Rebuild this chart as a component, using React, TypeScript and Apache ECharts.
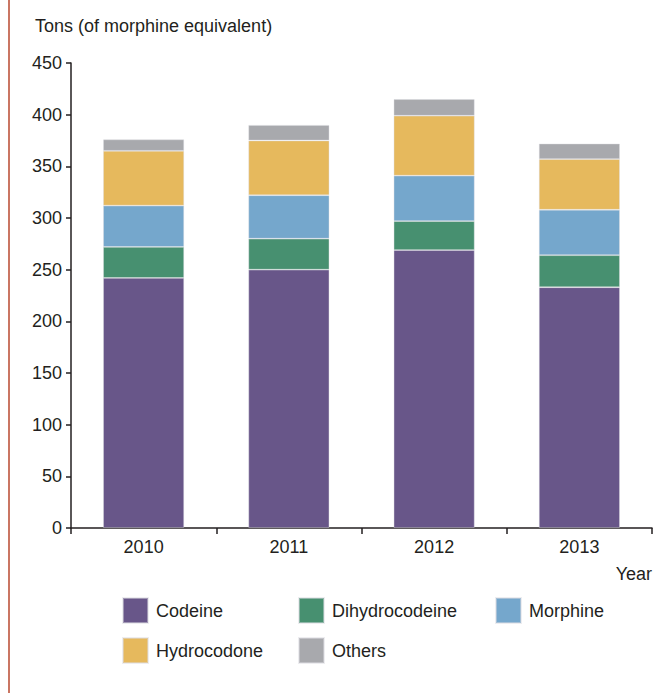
import React, { useEffect, useRef } from "react";
import * as echarts from "echarts";

const years = ["2010", "2011", "2012", "2013"];
const codeine = [242, 250, 269, 233];
const dihydrocodeine = [30, 30, 28, 31];
const morphine = [40, 42, 44, 44];
const hydrocodone = [53, 53, 58, 49];
const others = [11, 15, 16, 15];

const seriesNames = ["Codeine", "Dihydrocodeine", "Morphine", "Hydrocodone", "Others"];
const seriesValues = [codeine, dihydrocodeine, morphine, hydrocodone, others];
const colors = ["#685689", "#479070", "#75A7CC", "#E6B95D", "#A8A9AD"];

const FONT = "'Liberation Sans Narrow', 'Arial Narrow', 'Liberation Sans', sans-serif";
const TXT = "#231f20";

export default function App() {
  const ref = useRef<HTMLDivElement>(null);
  useEffect(() => {
    if (!ref.current) return;
    const chart = echarts.init(ref.current, null, { renderer: "svg" });
    const legendPos = [
      { left: 122, top: 597 },
      { left: 298, top: 597 },
      { left: 495, top: 597 },
      { left: 122, top: 637 },
      { left: 298, top: 637 },
    ];
    chart.setOption({
      animation: false,
      backgroundColor: "#ffffff",
      textStyle: { fontFamily: FONT },
      grid: { left: 71, right: 7, top: 63, bottom: 165, containLabel: false },
      legend: seriesNames.map((n, i) => ({
        data: [n],
        left: legendPos[i].left,
        top: legendPos[i].top,
        itemWidth: 25,
        itemHeight: 25,
        padding: 0,
        selectedMode: false,
        icon: "rect",
        textStyle: { fontFamily: FONT, fontSize: 18, color: TXT, padding: [0, 0, 0, 3] },
      })),
      xAxis: {
        type: "category",
        data: years,
        axisLine: { show: true, lineStyle: { color: TXT, width: 1.5 } },
        axisTick: { show: true, length: 6, lineStyle: { color: TXT, width: 1.5 } },
        axisLabel: { fontFamily: FONT, fontSize: 18, color: TXT, margin: 10 },
        name: "Year",
        nameLocation: "end",
        nameGap: 0,
        nameTextStyle: {
          fontFamily: FONT,
          fontSize: 18,
          color: TXT,
          align: "right",
          verticalAlign: "top",
          padding: [37, 0, 0, 0],
        },
      },
      yAxis: {
        type: "value",
        min: 0,
        max: 450,
        interval: 50,
        splitLine: { show: false },
        axisLine: { show: true, lineStyle: { color: TXT, width: 1.5 } },
        axisTick: { show: true, length: 5, lineStyle: { color: TXT, width: 1.5 } },
        axisLabel: { fontFamily: FONT, fontSize: 18, color: TXT, margin: 9 },
      },
      graphic: [
        {
          type: "line",
          shape: { x1: 9, y1: 0, x2: 9, y2: 693 },
          style: { stroke: "#b8482f", lineWidth: 1.5 },
        },
        {
          type: "text",
          left: 35,
          top: 17,
          style: {
            text: "Tons (of morphine equivalent)",
            font: `18px ${FONT}`,
            fill: TXT,
          },
        },
      ],
      series: seriesNames.map((n, i) => ({
        name: n,
        type: "bar",
        stack: "total",
        barWidth: 81,
        data: seriesValues[i],
        itemStyle: { color: colors[i], borderColor: "rgba(220,220,225,0.5)", borderWidth: 0.8 },
      })),
    });
    return () => chart.dispose();
  }, []);
  return (
    <div
      ref={ref}
      style={{ position: "fixed", left: 0, top: 0, width: 659, height: 693 }}
    />
  );
}
